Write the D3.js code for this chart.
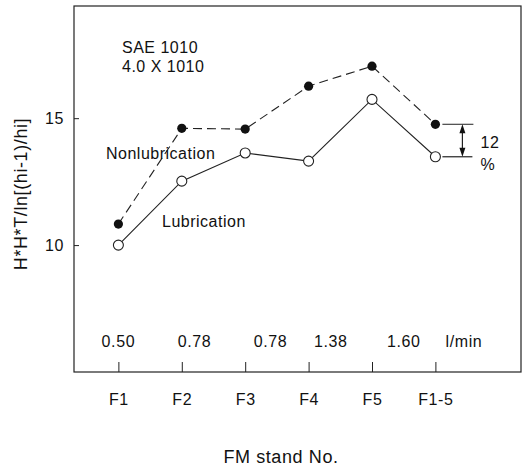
<!DOCTYPE html>
<html>
<head>
<meta charset="utf-8">
<script src="https://cdn.jsdelivr.net/npm/d3@7"></script>
<style>
  body { margin: 0; background: #fff; }
  text { font-family: "Liberation Sans", Arial, sans-serif; fill: #111; }
</style>
</head>
<body>
<div id="chart"></div>
<script>
// stands and measured values
const stands = ["F1", "F2", "F3", "F4", "F5", "F1-5"];
const nonLub = [10.83, 14.6, 14.57, 16.26, 17.05, 14.76];
const lub = [10.0, 12.52, 13.63, 13.31, 15.74, 13.48];
const yTicks = [10, 15];
// oil flow rate labels and where they sit along the stand axis
const flowLabels = ["0.50", "0.78", "0.78", "1.38", "1.60", "l/min"];
const flowAt = [0, 1.2, 2.4, 3.35, 4.5, 5.45];

const W = 526, H = 466;
const margin = { top: 6, right: 5, bottom: 94, left: 74 };
const width = W - margin.left - margin.right;
const height = H - margin.top - margin.bottom;

const svg = d3.select("#chart")
  .append("svg")
  .attr("width", W)
  .attr("height", H)
  .append("g")
  .attr("transform", `translate(${margin.left},${margin.top})`);

const x = d3.scaleLinear().domain([-0.7, 6.35]).range([0, width]);
const y = d3.scaleLinear().domain([5, 19.42]).range([height, 0]);

// frame
svg.append("rect")
  .attr("width", width)
  .attr("height", height)
  .attr("fill", "none")
  .attr("stroke", "#222")
  .attr("stroke-width", 1.2);

// bottom axis, ticks pointing inward
const xAxis = svg.append("g")
  .attr("transform", `translate(0,${height})`)
  .call(d3.axisBottom(x).tickValues(d3.range(stands.length))
    .tickFormat(i => stands[i]).tickSizeInner(-10).tickSizeOuter(0).tickPadding(22));
xAxis.select(".domain").remove();
xAxis.selectAll("line").attr("stroke", "#222");
xAxis.selectAll("text").style("font-size", "16px").style("letter-spacing", "0.6px")
  .attr("fill", "#111").attr("font-family", "Liberation Sans, Arial, sans-serif");

// left axis
const yAxis = svg.append("g")
  .call(d3.axisLeft(y).tickValues(yTicks).tickSizeInner(-5).tickSizeOuter(0).tickPadding(10));
yAxis.select(".domain").remove();
yAxis.selectAll("line").attr("stroke", "#222");
yAxis.selectAll("text").style("font-size", "16px").style("letter-spacing", "0.6px")
  .attr("fill", "#111").attr("font-family", "Liberation Sans, Arial, sans-serif");

// flow rates along the bottom
svg.selectAll(".flow")
  .data(flowLabels)
  .enter().append("text")
  .attr("class", "flow")
  .attr("x", (d, i) => x(flowAt[i]))
  .attr("y", height - 25)
  .attr("text-anchor", "middle")
  .style("font-size", "16px")
  .style("letter-spacing", "0.6px")
  .text(d => d);

const line = d3.line().x((d, i) => x(i)).y(d => y(d));

svg.append("path")
  .datum(nonLub)
  .attr("d", line)
  .attr("fill", "none")
  .attr("stroke", "#222")
  .attr("stroke-width", 1.1)
  .attr("stroke-dasharray", "9,5");

svg.append("path")
  .datum(lub)
  .attr("d", line)
  .attr("fill", "none")
  .attr("stroke", "#222")
  .attr("stroke-width", 1.1);

svg.selectAll(".dotN")
  .data(nonLub)
  .enter().append("circle")
  .attr("class", "dotN")
  .attr("cx", (d, i) => x(i))
  .attr("cy", d => y(d))
  .attr("r", 4.6)
  .attr("fill", "#111");

svg.selectAll(".dotL")
  .data(lub)
  .enter().append("circle")
  .attr("class", "dotL")
  .attr("cx", (d, i) => x(i))
  .attr("cy", d => y(d))
  .attr("r", 5)
  .attr("fill", "#fff")
  .attr("stroke", "#222")
  .attr("stroke-width", 1.1);

// 12 % difference marker at F1-5
const last = stands.length - 1;
const xa = x(last);
const yTop = y(nonLub[last]), yBot = y(lub[last]);
svg.append("line").attr("x1", xa + 7).attr("x2", xa + 38).attr("y1", yTop).attr("y2", yTop)
  .attr("stroke", "#222").attr("stroke-width", 1);
svg.append("line").attr("x1", xa + 7).attr("x2", xa + 37).attr("y1", yBot).attr("y2", yBot)
  .attr("stroke", "#222").attr("stroke-width", 1.2);
svg.append("line").attr("x1", xa + 27).attr("x2", xa + 27).attr("y1", yTop + 6).attr("y2", yBot - 6)
  .attr("stroke", "#222").attr("stroke-width", 1.2);
svg.append("path")
  .attr("d", `M${xa + 27},${yTop} l-3,9 l6,0 Z M${xa + 27},${yBot} l-3,-9 l6,0 Z`)
  .attr("fill", "#111");
svg.append("text").attr("x", xa + 45).attr("y", yTop + 24)
  .style("font-size", "16px").style("letter-spacing", "0.6px").text("12");
svg.append("text").attr("x", xa + 45).attr("y", yTop + 46)
  .style("font-size", "16px").text("%");

// annotations
const notes = [
  { t: "SAE 1010", x: 48, y: 47 },
  { t: "4.0 X 1010", x: 48, y: 66 },
  { t: "Nonlubrication", x: 32, y: 153 },
  { t: "Lubrication", x: 88, y: 221 }
];
svg.selectAll(".note")
  .data(notes)
  .enter().append("text")
  .attr("class", "note")
  .attr("x", d => d.x)
  .attr("y", d => d.y)
  .style("font-size", "16px")
  .style("letter-spacing", "0.5px")
  .text(d => d.t);

// axis titles
svg.append("text")
  .attr("transform", `translate(${27 - margin.left},${194 - margin.top}) rotate(-90)`)
  .attr("text-anchor", "middle")
  .style("font-size", "18px")
  .style("letter-spacing", "0.6px")
  .text("H*H*T/ln[(hi-1)/hi]");

svg.append("text")
  .attr("x", 281 - margin.left)
  .attr("y", 463 - margin.top)
  .attr("text-anchor", "middle")
  .style("font-size", "18px")
  .style("letter-spacing", "0.6px")
  .text("FM stand No.");
</script>
</body>
</html>
